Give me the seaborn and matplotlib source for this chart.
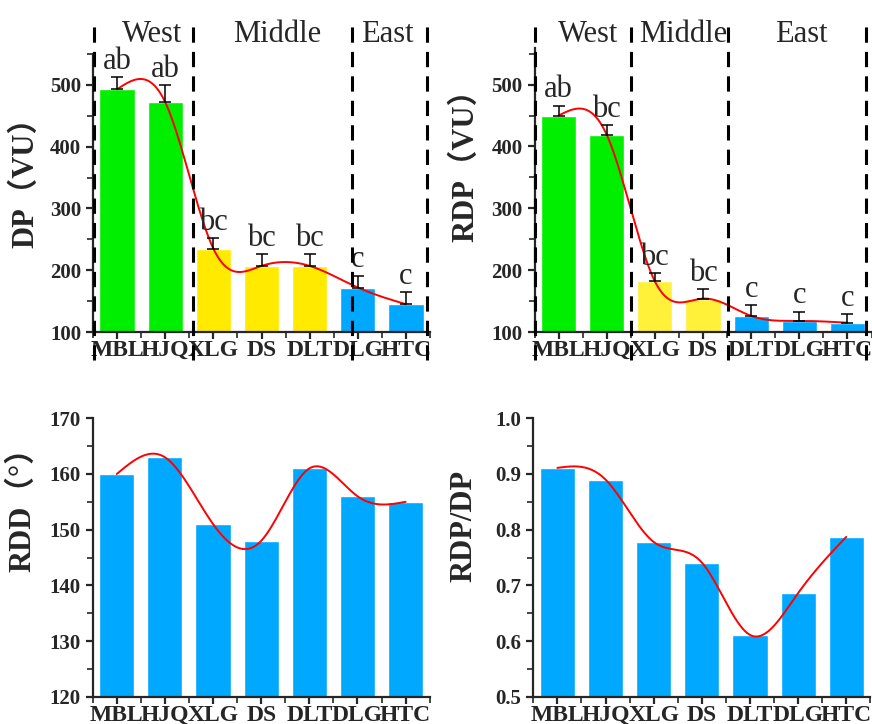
import numpy as np
import pandas as pd
import matplotlib
matplotlib.use("Agg")
import matplotlib.pyplot as plt
import seaborn as sns

# ---------------- data ----------------
sites = ["MBL", "HJQ", "XLG", "DS", "DLT", "DLG", "HTC"]

dp_values = [493, 472, 235, 207, 207, 172, 145]
dp_err = [20, 28, 17, 19, 19, 19, 20]
dp_letters = ["ab", "ab", "bc", "bc", "bc", "c", "c"]
dp_regions = ["West", "West", "Middle", "Middle", "Middle", "East", "East"]

rdp_values = [450, 419, 182, 154, 126, 118, 115]
rdp_err = [16, 15, 13, 15, 17, 15, 14]
rdp_letters = ["ab", "bc", "bc", "bc", "c", "c", "c"]
rdp_regions = ["West", "West", "Middle", "Middle", "East", "East", "East"]

rdd_values = [160, 163, 151, 148, 161, 156, 155]
ratio_values = [0.911, 0.890, 0.778, 0.741, 0.611, 0.686, 0.787]

region_names = ["West", "Middle", "East"]

# ---------------- style ----------------
sns.set_style("ticks")
plt.rcParams["font.family"] = ["Liberation Serif", "Noto Sans CJK SC", "DejaVu Sans"]
plt.rcParams["axes.linewidth"] = 1.6

GREEN = "#00EE00"
YELLOW = "#FFEA00"
YELLOW2 = "#FFF03A"
BLUE = "#00A8FF"
RED = "#FF0000"


def natural_spline(y, n=300):
    """Natural cubic spline through the bar tops (for the smooth red line)."""
    y = np.asarray(y, float)
    x = np.arange(len(y), dtype=float)
    m = len(x)
    h = np.diff(x)
    A = np.zeros((m, m))
    b = np.zeros(m)
    A[0, 0] = 1
    A[-1, -1] = 1
    for i in range(1, m - 1):
        A[i, i - 1] = h[i - 1]
        A[i, i] = 2 * (h[i - 1] + h[i])
        A[i, i + 1] = h[i]
        b[i] = 3 * ((y[i + 1] - y[i]) / h[i] - (y[i] - y[i - 1]) / h[i - 1])
    c = np.linalg.solve(A, b)
    bb = (y[1:] - y[:-1]) / h - h * (c[1:] + 2 * c[:-1]) / 3
    d = (c[1:] - c[:-1]) / (3 * h)
    xs = np.linspace(x[0], x[-1], n)
    idx = np.clip(np.searchsorted(x, xs, side="right") - 1, 0, m - 2)
    dt = xs - x[idx]
    ys = y[idx] + bb[idx] * dt + c[idx] * dt ** 2 + d[idx] * dt ** 3
    return xs, ys


W, H = 872, 724
fig = plt.figure(figsize=(W / 100, H / 100), dpi=100)


def px_axes(left, bottom_px, width, height):
    return fig.add_axes([left / W, 1 - bottom_px / H, width / W, height / H])


def style_axes(ax, ylim, major, minor, fmt):
    ax.set_xlim(-0.5, 6.5)
    ax.set_ylim(*ylim)
    ax.set_yticks(major)
    ax.set_yticks(minor, minor=True)
    ax.set_yticklabels([fmt.format(v) for v in major])
    ax.set_xticks(np.arange(-0.5, 7, 1.0), minor=True)
    ax.tick_params(axis="both", which="major", direction="out", length=5, width=1.6)
    ax.tick_params(axis="both", which="minor", direction="out", length=4, width=1.2)
    ax.tick_params(axis="x", which="major", pad=1)
    for lab in ax.get_yticklabels():
        lab.set_fontsize(15)
        lab.set_fontweight("bold")
    for lab in ax.get_xticklabels():
        lab.set_fontsize(17)
        lab.set_fontweight("bold")
    ax.set_xlabel("")
    sns.despine(ax=ax)


def draw_bars(ax, values, colors):
    df = pd.DataFrame({"site": sites, "value": values})
    sns.barplot(data=df, x="site", y="value", hue="site", palette=colors,
                order=sites, hue_order=sites, legend=False, width=0.73,
                saturation=1, ax=ax, zorder=2)
    xs, ys = natural_spline(values)
    ax.plot(xs, ys, color=RED, lw=1.4, zorder=4)


def draw_errors(ax, values, errs, letters):
    x = np.arange(len(values))
    ax.errorbar(x, values, yerr=[np.zeros(len(errs)), errs], fmt="none",
                ecolor="black", elinewidth=1.1, capsize=4, capthick=1.1, zorder=5)
    for xi, v, e, t in zip(x, values, errs, letters):
        ax.annotate(t, (xi, v + e), xytext=(0, 6), textcoords="offset points",
                    ha="center", va="baseline", fontsize=22, zorder=6)


def draw_regions(ax, line_x, label_x, bottom_px=332, top_px=54, y0=360, y1=18, base=42):
    hpx = bottom_px - top_px
    for lx in line_x:
        ax.axvline(lx, ymin=(bottom_px - y0) / hpx, ymax=(bottom_px - y1) / hpx,
                   color="black", lw=2.2, ls=(0, (5, 3)), clip_on=False, zorder=7)
    for name, lxx in zip(region_names, label_x):
        ax.text(lxx, (bottom_px - base) / hpx, name, transform=ax.get_xaxis_transform(),
                ha="center", va="baseline", fontsize=22)


def ylabel(ax, text, xpx, yfrac):
    ax.set_ylabel(text, fontsize=22, fontweight="bold")
    # right (baseline) edge of the rotated label at figure pixel x
    pos = ax.get_position()
    ax.yaxis.set_label_coords((xpx / W - pos.x0) / pos.width, yfrac)


region_color = {"West": GREEN, "Middle": YELLOW, "East": BLUE}

# ---- top-left: DP ----
ax1 = px_axes(93, 332, 337, 278)
draw_bars(ax1, dp_values, [region_color[r] for r in dp_regions])
draw_errors(ax1, dp_values, dp_err, dp_letters)
style_axes(ax1, (100, 550), [100, 200, 300, 400, 500], [150, 250, 350, 450, 550], "{:d}")
draw_regions(ax1, [-0.48, 1.57, 4.87, 6.43], [0.73, 3.32, 5.62], top_px=54)
ylabel(ax1, "DP（VU）", 40, 0.565)

# ---- top-right: RDP ----
region_color2 = {"West": GREEN, "Middle": YELLOW2, "East": BLUE}
ax2 = px_axes(534.5, 332, 337, 284.5)
draw_bars(ax2, rdp_values, [region_color2[r] for r in rdp_regions])
draw_errors(ax2, rdp_values, rdp_err, rdp_letters)
style_axes(ax2, (100, 560), [100, 200, 300, 400, 500], [150, 250, 350, 450, 550], "{:d}")
draw_regions(ax2, [-0.49, 1.51, 3.52, 6.38], [0.61, 2.58, 5.04], top_px=47.5)
ylabel(ax2, "RDP（VU）", 480, 0.61)

# ---- bottom-left: RDD ----
ax3 = px_axes(92.7, 696.7, 337, 278.4)
draw_bars(ax3, rdd_values, [BLUE] * len(sites))
style_axes(ax3, (120, 170), [120, 130, 140, 150, 160, 170],
           [125, 135, 145, 155, 165], "{:d}")
ylabel(ax3, "RDD（°）", 37, 0.70)

# ---- bottom-right: RDP/DP ----
ax4 = px_axes(533.3, 696.7, 337, 278.4)
draw_bars(ax4, ratio_values, [BLUE] * len(sites))
style_axes(ax4, (0.5, 1.0), [0.5, 0.6, 0.7, 0.8, 0.9, 1.0],
           [0.55, 0.65, 0.75, 0.85, 0.95], "{:.1f}")
ylabel(ax4, "RDP/DP", 478, 0.615)

fig.savefig("out.png", dpi=100)
